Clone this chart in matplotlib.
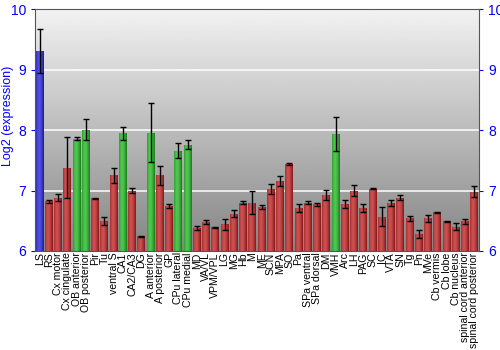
import numpy as np
import matplotlib
matplotlib.use("Agg")
import matplotlib.pyplot as plt
from matplotlib.colors import LinearSegmentedColormap

plt.rcParams["font.family"] = ["Liberation Sans", "DejaVu Sans"]

regions = ["LS", "RS", "Cx motor", "Cx cingulate", "OB anterior", "OB posterior",
           "Pir", "Tu", "ventral S", "CA1", "CA2/CA3", "DG", "A anterior",
           "A posterior", "GP", "CPu lateral", "CPu medial", "MD", "VA/VL",
           "VPM/VPL", "LG", "MG", "Hb", "M", "ME", "SCN", "MPA", "SO", "Pa",
           "SPa ventral", "SPa dorsal", "DM", "VMH", "Arc", "LH", "PAG", "SC",
           "IC", "VTA", "SN", "Tg", "Pn", "MVe", "Cb vermis", "Cb lobe",
           "Cb nucleus", "spinal cord anterior", "spinal cord posterior"]
expr = [9.31, 6.82, 6.88, 7.38, 7.86, 8.01,
        6.87, 6.50, 7.25, 7.95, 7.00, 6.24, 7.96,
        7.25, 6.74, 7.66, 7.76, 6.38, 6.48,
        6.39, 6.44, 6.62, 6.80, 6.80, 6.73, 7.03, 7.16, 7.44, 6.71,
        6.80, 6.77, 6.93, 7.94, 6.78, 7.00, 6.71, 7.03,
        6.57, 6.80, 6.88, 6.54, 6.28, 6.54, 6.64, 6.49,
        6.40, 6.49, 6.98]
err = [0.37, 0.03, 0.06, 0.50, 0.02, 0.17,
       0.01, 0.07, 0.12, 0.11, 0.04, 0.01, 0.49,
       0.15, 0.03, 0.12, 0.07, 0.03, 0.03,
       0.01, 0.09, 0.06, 0.03, 0.19, 0.03, 0.08, 0.08, 0.02, 0.07,
       0.02, 0.03, 0.08, 0.28, 0.07, 0.09, 0.06, 0.01,
       0.15, 0.05, 0.04, 0.04, 0.06, 0.06, 0.01, 0.01,
       0.06, 0.04, 0.09]
# b = selected region, g = highlighted, r = other
group = ["b", "r", "r", "r", "g", "g", "r", "r", "r", "g", "r", "r", "g",
         "r", "r", "g", "g"] + ["r"] * 15 + ["g"] + ["r"] * 15

palette = {
    "b": ("#1c1c88", "#5050e8"),
    "g": ("#1a7a1a", "#50c850"),
    "r": ("#801818", "#d05050"),
}

fig = plt.figure(figsize=(5, 3.5), dpi=100)
ax = fig.add_axes([0.07, 0.283, 0.888, 0.69])

ymin, ymax = 6, 10
x = np.arange(len(regions))
ax.set_xlim(-0.5, len(regions) - 0.5)
ax.set_ylim(ymin, ymax)

# grey background gradient
bg = np.linspace(0.95, 0.52, 256).reshape(-1, 1)
ax.imshow(bg, cmap="gray", vmin=0, vmax=1, aspect="auto",
          extent=[-0.5, len(regions) - 0.5, ymin, ymax], origin="upper", zorder=0)
for yv in [7, 8, 9]:
    ax.axhline(yv, color="white", lw=1.2, alpha=0.9, zorder=1)

width = 0.86
bars = ax.bar(x, np.array(expr) - ymin, width=width, bottom=ymin, color="none",
              edgecolor="none", zorder=2)
# cylinder-like shading across each bar
shade = np.abs(np.linspace(-0.8, 1.2, 64)) ** 1.5 / 1.2 ** 1.5
for b, g in zip(bars, group):
    dark, light = palette[g]
    cmap = LinearSegmentedColormap.from_list("c", [light, dark])
    x0, y0 = b.get_x(), b.get_y()
    im = ax.imshow(shade.reshape(1, -1), cmap=cmap, vmin=0, vmax=1, aspect="auto",
                   extent=[x0, x0 + b.get_width(), y0, y0 + b.get_height()], zorder=2)
    im.set_clip_path(b)

ax.errorbar(x, expr, yerr=err, fmt="none", ecolor="black", elinewidth=1,
            capsize=2, capthick=1, zorder=3)

ax.set_xticks(x)
ax.set_xticklabels(regions, rotation=90, fontsize=7.6)
ax.tick_params(axis="x", length=0, pad=1)
ax.set_yticks([6, 7, 8, 9, 10])
ax.tick_params(axis="y", colors="#0000ff", labelsize=10, length=3,
               left=True, right=True, labelleft=True, labelright=True)
for sp in ax.spines.values():
    sp.set_color("#555555")
ax.set_ylabel("Log2 (expression)", color="#0000ff", fontsize=9)
ax.yaxis.set_label_coords(-0.048, 0.56)

fig.savefig("out.png", dpi=100)
